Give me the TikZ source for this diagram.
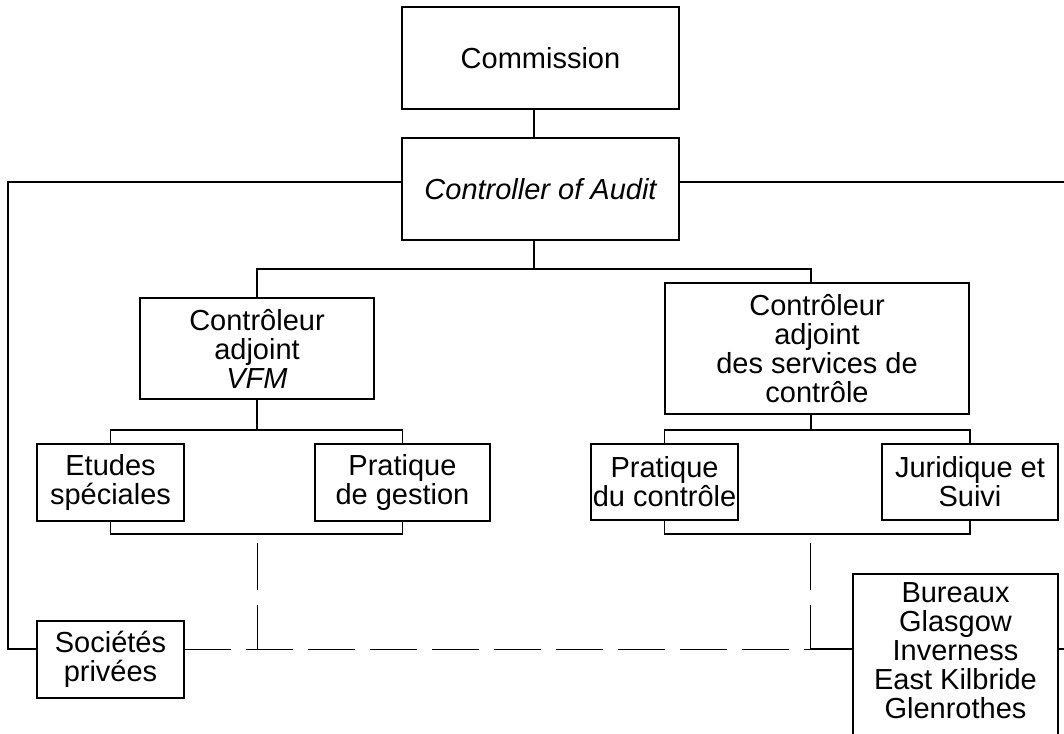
\documentclass[tikz,border=0pt]{standalone}
\usepackage{fontspec}
\setmainfont{Liberation Sans}
\newcommand\boxfont{\fontsize{29}{29}\selectfont}
\tikzset{
  box/.style={draw, line width=1.8pt, inner sep=0pt, outer sep=0pt, align=center, font=\boxfont},
  txt/.style={inner sep=0pt, outer sep=0pt, align=center, font=\boxfont},
  conn/.style={line width=1.6pt},
  rail/.style={line width=1.3pt},
  dashlink/.style={line width=1pt, dash pattern=on 47pt off 15pt}
}
\begin{document}
\begin{tikzpicture}[x=1pt, y=-1pt]
\useasboundingbox (0,0) rectangle (1064,733);
\clip (0,0) rectangle (1064,733);
% boxes
\node[box, minimum width=277pt, minimum height=102pt] (comm) at (540.5,58) {Commission};
\node[box, minimum width=277pt, minimum height=102pt] (ctrl) at (540.5,189) {\itshape Controller of Audit};
\node[box, minimum width=234pt, minimum height=101pt] (vfm) at (257,348.5) {Contrôleur\\adjoint\\\textit{VFM}};
\node[box, minimum width=304pt, minimum height=131pt] (serv) at (817,348.5) {Contrôleur\\adjoint\\des services de\\contrôle};
\node[box, minimum width=147pt, minimum height=77pt] (etu) at (110.5,482.5) {Etudes\\spéciales};
\node[box, minimum width=175pt, minimum height=77pt] (ges) at (402.5,482.5) {Pratique\\de gestion};
\node[box, minimum width=147pt, minimum height=76pt] (pct) at (664.5,482) {Pratique\\du contrôle};
\node[box, minimum width=176pt, minimum height=76pt] (jur) at (970,482) {Juridique et\\Suivi};
\node[box, minimum width=147pt, minimum height=77pt] (soc) at (110.5,659.5) {Sociétés\\privées};
\node[box, minimum width=205pt, minimum height=190pt] (bur) at (955.5,669) {};
\node[txt, anchor=north] (burtxt) at (955.5,583) {Bureaux\\Glasgow\\Inverness\\East Kilbride\\Glenrothes};
% helper coordinates
\coordinate (sx) at (534,0);
\coordinate (hy) at (0,182);
\coordinate (l1) at (8,0);
\coordinate (r1) at (1066,0);
\coordinate (by) at (0,649);
\coordinate (t1) at (0,269);
\coordinate (t2) at (0,430);
\coordinate (t3) at (0,534);
\coordinate (vx) at (811,0);
\coordinate (dv1) at (257,543);
\coordinate (dv2) at (810,543);
% connectors
\draw[conn] (comm.south -| sx) -- (ctrl.north -| sx);
\draw[conn] (ctrl.south -| sx) -- (sx |- t1);
\draw[conn] (vfm.north) |- (t1 -| vx) -- (serv.north -| vx);
\draw[conn] (vfm.south) -- (vfm.south |- t2);
\draw[conn] (etu.north) |- (ges.north |- t2) -- (ges.north);
\draw[conn] (etu.south) |- (ges.south |- t3) -- (ges.south);
\draw[conn] (serv.south -| vx) -- (vx |- t2);
\draw[conn] (pct.north) |- (jur.north |- t2) -- (jur.north);
\draw[conn] (pct.south) |- (jur.south |- t3) -- (jur.south);
\draw[rail] (ctrl.west |- hy) -| (l1 |- by) -- (soc.west |- by);
\draw[rail] (ctrl.east |- hy) -- (r1 |- hy);
\draw[rail] (bur.east |- by) -- (r1 |- by);
\draw[dashlink] (soc.east |- by) -- (dv2 |- by);
\draw[dashlink] (dv1) -- (dv1 |- by);
\draw[dashlink] (dv2) -- (dv2 |- by);
\draw[rail] (dv2 |- by) -- (bur.west |- by);
\end{tikzpicture}
\end{document}
